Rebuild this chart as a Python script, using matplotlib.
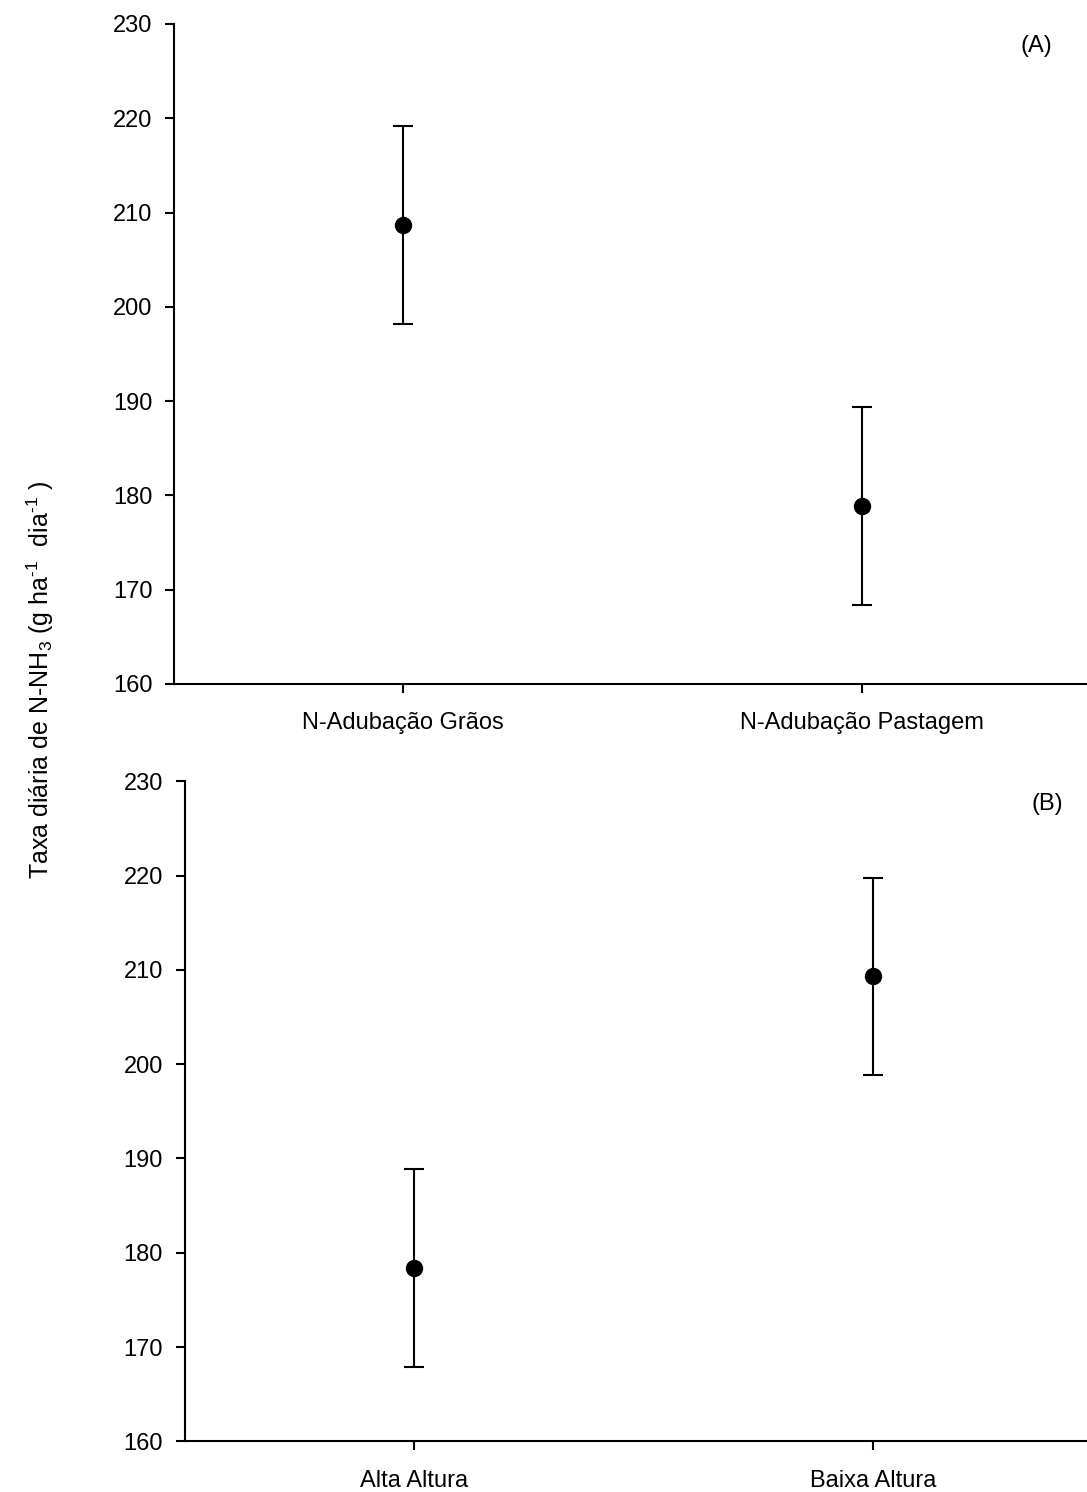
import matplotlib
matplotlib.use("Agg")
import matplotlib.pyplot as plt

plt.rcParams["font.family"] = ["Liberation Sans", "DejaVu Sans"]
plt.rcParams["mathtext.fontset"] = "custom"
plt.rcParams["mathtext.rm"] = "Liberation Sans"
plt.rcParams["mathtext.it"] = "Liberation Sans"

# Panel A: nitrogen fertilization phase
cats_a = ["N-Adubação Grãos", "N-Adubação Pastagem"]
mean_a = [208.7, 178.9]
err_a = [10.5, 10.5]

# Panel B: grazing height
cats_b = ["Alta Altura", "Baixa Altura"]
mean_b = [178.4, 209.3]
err_b = [10.5, 10.4]

y_ticks = [160, 170, 180, 190, 200, 210, 220, 230]

W, H = 1087, 1492
FS = 17
fig = plt.figure(figsize=(W / 100, H / 100), dpi=100)

ax_a = fig.add_axes([174 / W, 1 - 684 / H, 917 / W, 660 / H])
ax_b = fig.add_axes([184.5 / W, 1 - 1441.3 / H, 918 / W, 660 / H])


def draw_panel(ax, cats, means, errs, tag):
    xs = list(range(1, len(cats) + 1))
    ax.errorbar(xs, means, yerr=errs, fmt="o", color="black",
                markersize=11.5, elinewidth=1.5, capsize=7, capthick=1.5)
    ax.set_xlim(0.5, len(cats) + 0.5)
    ax.set_ylim(160, 230)
    ax.set_yticks(y_ticks)
    ax.set_xticks(xs)
    ax.set_xticklabels(cats)
    for side in ("top", "right"):
        ax.spines[side].set_visible(False)
    for side in ("left", "bottom"):
        ax.spines[side].set_linewidth(1.5)
    ax.tick_params(axis="y", direction="out", length=6.5, width=1.5,
                   labelsize=FS, pad=9)
    ax.tick_params(axis="x", direction="out", length=6.5, width=1.5,
                   labelsize=FS, pad=14)
    ax.text(0.94, 0.966, tag, transform=ax.transAxes, fontsize=FS,
            ha="center", va="center")


draw_panel(ax_a, cats_a, mean_a, err_a, "(A)")
draw_panel(ax_b, cats_b, mean_b, err_b, "(B)")

fig.text(40 / W, 1 - 680 / H,
         r"Taxa diária de N-NH$_3$ (g ha$^{\text{-1}}$  dia$^{\text{-1}}$ )",
         rotation=90, ha="center", va="center", fontsize=FS + 1)

fig.savefig("out.png", dpi=100)
